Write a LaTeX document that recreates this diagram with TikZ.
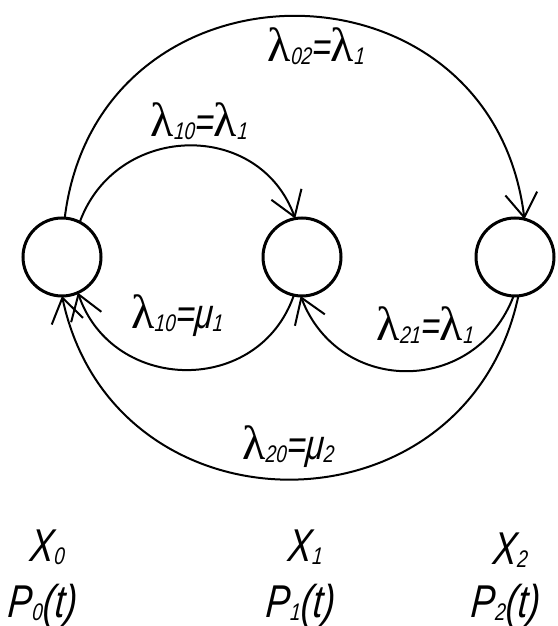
\documentclass[tikz,border=0pt]{standalone}
\usepackage{fontspec}
\setmainfont{Liberation Sans}
\newfontfamily\sansf[FakeStretch=0.78,FakeSlant=0.08]{Liberation Sans}
\newfontfamily\serf{Liberation Serif}
\usetikzlibrary{arrows.meta}
\newcommand\lamb{{\serf\upshape\fontsize{48}{48}\selectfont λ}}
\newcommand\lsub[1]{\raisebox{-3pt}{\fontsize{24}{24}\selectfont #1}}
\newcommand\xsub[1]{\raisebox{-3pt}{\fontsize{24}{24}\selectfont #1}}
\begin{document}
\begin{tikzpicture}[x=1pt,y=1pt,
 state/.style={circle,draw,line width=3pt,minimum size=78pt,inner sep=0pt,outer sep=0pt},
 conn/.style={line width=2pt,-{Straight Barb[length=24pt,width=32pt]}},
 lab/.style={font=\sansf\itshape\fontsize{42}{42}\selectfont,inner sep=0pt},
 big/.style={font=\sansf\itshape\fontsize{46}{46}\selectfont,inner sep=0pt}]
\useasboundingbox (0,0) rectangle (557,626);
\node[state] (n0) at (62,369) {};
\node[state] (n1) at (302,369) {};
\node[state] (n2) at (515,369) {};
\draw[conn] (n0.86) .. controls +(83:272) and +(97:272) .. (n2.76);
\draw[conn] (n0.63) .. controls +(70:106) and +(110:106) .. (n1.100);
\draw[conn] (n1.258) .. controls +(-109:107) and +(-71:107) .. (n0.294);
\draw[conn] (n2.268) .. controls +(-111:107) and +(-69:107) .. (n1.268);
\draw[conn] (n2.275) .. controls +(-102:250) and +(-78:250) .. (n0.270);
\node[lab] (l02) at (316,580) {\lamb\lsub{02}=\lamb\lsub{1}};
\node[lab] (l10a) at (199,505) {\lamb\lsub{10}=\lamb\lsub{1}};
\node[lab] (l10b) at (177,310) {\lamb\lsub{10}=μ\lsub{1}};
\node[lab] (l21) at (425,301) {\lamb\lsub{21}=\lamb\lsub{1}};
\node[lab] (l20) at (288,179) {\lamb\lsub{20}=μ\lsub{2}};
\node[big] (x0) at (47,79) {X\xsub{0}};
\node[big] (x1) at (305,79) {X\xsub{1}};
\node[big] (x2) at (510,76) {X\xsub{2}};
\node[big] (p0) at (42,20) {P\xsub{0}(t)};
\node[big] (p1) at (300,20) {P\xsub{1}(t)};
\node[big] (p2) at (505,20) {P\xsub{2}(t)};
\end{tikzpicture}
\end{document}
